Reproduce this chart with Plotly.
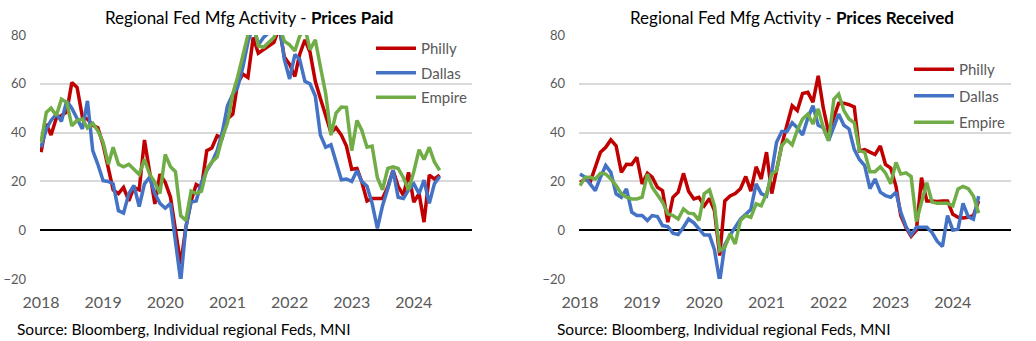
import pandas as pd
import plotly.graph_objects as go

months = pd.date_range("2018-01-01", periods=78, freq="MS")

philly_paid = [32, 43.5, 39, 46, 47, 48.5, 60.5, 58.5, 46.5, 45.5, 43, 42, 35, 24.5, 16.5, 15, 17.5, 12, 17.5, 16.5,
               37, 24, 10.8, 23, 19.6, 13.5, 1, -14, 1, 12, 18.7, 17.6, 32.6, 33.7, 38.7, 37.8, 45.6, 47.6, 60, 64,
               62.6, 79, 72.5, 74, 75.5, 77, 83, 71, 68, 63, 72, 78, 73, 61, 54, 46.5, 40, 42, 39, 34.5,
               25, 25.3, 19.8, 12, 13, 13, 13, 17.7, 24.6, 18, 14.3, 23.7, 11.5, 15, 3.3, 22.6, 21, 22.6]
dallas_paid = [34, 41.5, 45, 47.6, 44.6, 53, 50, 46, 41.5, 53, 32.6, 27, 20.3, 20, 19, 8, 7, 15, 18.3, 9.7,
               19, 21.7, 15, 11, 9, 11, -6, -21, 1.2, 11.5, 12, 19.6, 24.4, 27.8, 32.6, 40, 51, 55.8, 58.5, 66.7,
               77, 84, 76, 79, 81, 81, 85, 70, 62, 72, 70, 61, 60, 55, 39, 34, 35, 28, 20.7, 21,
               20, 24.5, 20, 18, 11, 0.7, 10, 17, 24.6, 13.5, 13, 16.5, 19, 15, 20.5, 11, 19, 22]
empire_paid = [36, 48.3, 50, 47, 53.7, 52.4, 42.8, 45, 45.6, 41.9, 43.8, 40.8, 36, 27, 34, 27, 26, 27, 25, 22.8,
               29, 23, 19.6, 15, 31, 26, 24, 6, 4, 16, 15, 16, 25, 28, 30, 38, 44, 56, 62.6, 71,
               80, 86, 75.6, 75, 77, 79, 84, 77.5, 76, 73.5, 79.5, 83, 74, 78, 67, 56, 39, 48, 50.5, 50.3,
               32.6, 45, 41, 34, 34.5, 21.5, 16.5, 25.3, 26, 25.3, 21.5, 16.5, 24, 33, 29, 34, 28, 24.5]

philly_recv = [19.6, 21, 19.6, 25.8, 32, 34, 37, 34.6, 23.7, 27, 26.9, 29.9, 19, 23.3, 21.7, 17.6, 16.2, 3.3, 13.5, 15.6,
               23.3, 16, 12.8, 13.5, 10, 13, 8, -10.4, 12, 14, 15, 17, 22, 16, 26, 21, 32, 15, 25, 35,
               43, 51, 49, 56, 56.5, 52.5, 63.3, 50, 40, 46, 52, 52, 51.5, 50.5, 32.5, 33, 32, 31, 34.5, 27,
               25.5, 18, 6, 1, -2.5, 0, 21.5, 12, 12, 11.8, 12, 12, 6.5, 5.3, 5, 5.3, 6, 12]
dallas_recv = [23, 21.7, 19, 16.2, 21.7, 26.5, 23.7, 14.9, 13.5, 16.9, 7.4, 6, 6, 4, 6, 5.6, 1.9, 1.5, -1.2, -1.8,
               1.2, 4.6, 3, 0.5, -2, -2, -8, -21, -6, -2, 1.5, 4.5, 6.5, 8.5, 19, 15, 14, 24, 36, 40.5,
               40.5, 44, 42, 39, 46, 51, 43, 42, 36.7, 43, 47.6, 43, 41.5, 33, 29, 26.5, 17, 21, 15.6, 14.2,
               13.5, 15.6, 7.4, 1.5, -2, 1.2, 1.2, 1.2, -1, -4.5, -6.7, 6, 0, 0.5, 11, 5.5, 4.5, 14]
empire_recv = [18.3, 21.7, 21.7, 21, 23.3, 23, 21, 18.3, 14.9, 13.5, 12.8, 12.8, 13.5, 23, 17.6, 14.2, 11.5, 6.7, 6, 4.6,
               8.7, 7, 6.7, 4, 14.9, 16.5, 10, -8.3, -7, -1.5, -5.6, 4, 6, 5.3, 10.8, 10, 14.9, 23, 24.4, 34.7,
               37, 35, 41, 45.6, 47.6, 43.5, 49.7, 42, 36.7, 53.7, 55.8, 49, 45.6, 44, 32.5, 32, 24, 24, 26, 23.5,
               19, 27.8, 23, 23.5, 22, 3.5, 11, 19.5, 11.5, 11, 11, 11, 10, 16.9, 17.9, 17, 14, 7]

series_names = ["Philly", "Dallas", "Empire"]
colors = ["#C00000", "#4472C4", "#70AD47"]
year_ticks = ["2018", "2019", "2020", "2021", "2022", "2023", "2024"]
y_ticks = [-20, 0, 20, 40, 60, 80]

W, H = 1036, 341
FONT = "Lato"
GRAY = "#595959"

fig = go.Figure()
panels = [
    ([philly_paid, dallas_paid, empire_paid], "x", "y", "legend"),
    ([philly_recv, dallas_recv, empire_recv], "x2", "y2", "legend2"),
]
for vals, xa, ya, lg in panels:
    for name, col, v in zip(series_names, colors, vals):
        fig.add_trace(go.Scatter(
            x=months, y=v, name=name, mode="lines",
            line=dict(color=col, width=3.5),
            xaxis=xa, yaxis=ya, legend=lg, legendgroup=lg + name,
            hoverinfo="skip",
        ))

def px_x(p):
    return p / W

def px_y(p):
    return 1 - p / H

tickvals = [f"{y}-01-01" for y in year_ticks]
xcommon = dict(
    range=["2017-12-26", "2024-12-08"],
    tickmode="array", tickvals=tickvals, ticktext=year_ticks,
    showgrid=False, zeroline=False, showline=False, ticks="",
    tickfont=dict(family=FONT, size=16, color=GRAY),
    ticklabelstandoff=12,
)
ycommon = dict(
    range=[-20, 80], tickmode="array", tickvals=y_ticks,
    showgrid=True, gridcolor="#D9D9D9", gridwidth=2,
    zeroline=True, zerolinecolor="#000000", zerolinewidth=2,
    showline=False, ticks="",
    tickfont=dict(family=FONT, size=13, color=GRAY),
    ticklabelstandoff=13,
)

ydom = [px_y(279), px_y(35)]
fig.update_layout(
    width=W, height=H,
    margin=dict(l=0, r=0, t=0, b=0, autoexpand=False),
    paper_bgcolor="white", plot_bgcolor="white",
    xaxis=dict(domain=[px_x(40), px_x(472)], anchor="y", **xcommon),
    yaxis=dict(domain=ydom, anchor="x", **ycommon),
    xaxis2=dict(domain=[px_x(579), px_x(1011)], anchor="y2", **xcommon),
    yaxis2=dict(domain=ydom, anchor="x2", **ycommon),
    legend=dict(x=px_x(371), y=px_y(32), xanchor="left", yanchor="top",
                bgcolor="rgba(0,0,0,0)", font=dict(family=FONT, size=15, color=GRAY),
                traceorder="grouped", tracegroupgap=2, itemwidth=40),
    legend2=dict(x=px_x(909), y=px_y(53), xanchor="left", yanchor="top",
                 bgcolor="rgba(0,0,0,0)", font=dict(family=FONT, size=15, color=GRAY),
                 traceorder="grouped", tracegroupgap=4, itemwidth=40),
    showlegend=True,
)

annotations = [
    dict(text="Regional Fed Mfg Activity - <b>Prices Paid</b>", x=px_x(249), y=px_y(18)),
    dict(text="Regional Fed Mfg Activity - <b>Prices Received</b>", x=px_x(792), y=px_y(18)),
]
for a in annotations:
    fig.add_annotation(xref="paper", yref="paper", xanchor="center", yanchor="middle",
                       showarrow=False, font=dict(family=FONT, size=17, color="#000000"), **a)
for xs in [15, 555]:
    fig.add_annotation(text="Source: Bloomberg, Individual regional Feds, MNI",
                       xref="paper", yref="paper", x=px_x(xs), y=px_y(329),
                       xanchor="left", yanchor="middle", showarrow=False,
                       font=dict(family=FONT, size=15.5, color="#000000"))

fig.write_html("out.html")
